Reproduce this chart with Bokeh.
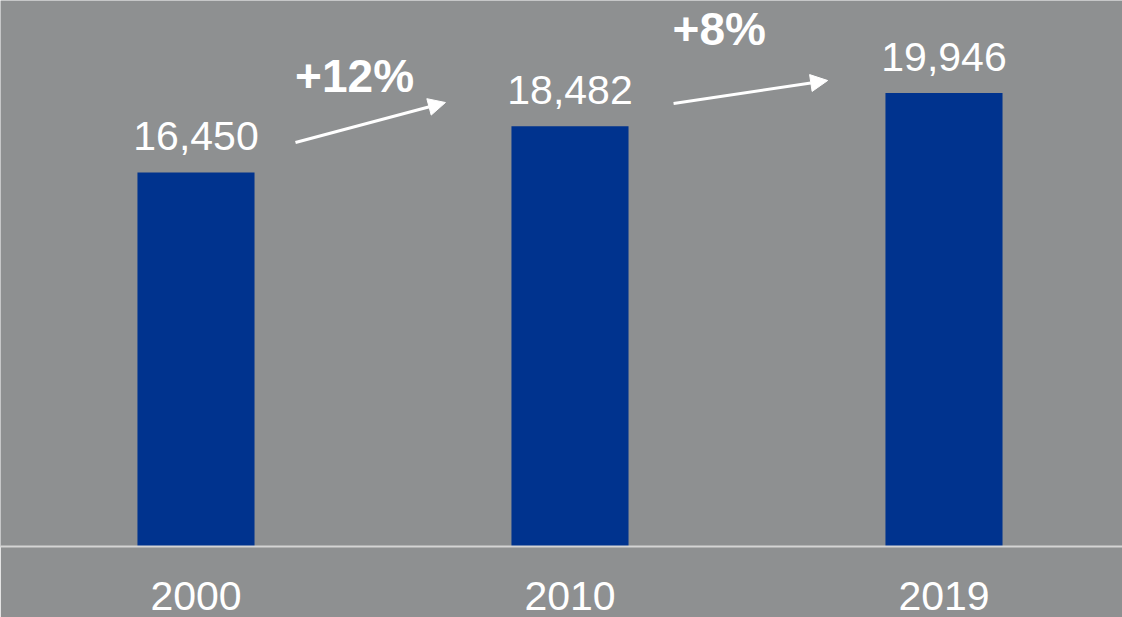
from bokeh.plotting import figure
from bokeh.models import Range1d, FixedTicker, Arrow, NormalHead, ColumnDataSource
from bokeh.core.properties import value
from bokeh.embed import file_html
from bokeh.resources import INLINE

# ---- data ----
years = ["2000", "2010", "2019"]
counts = [16450, 18482, 19946]
growth_labels = ["+%d%%" % round((counts[i + 1] / counts[i] - 1) * 100) for i in range(len(counts) - 1)]

# ---- layout constants (annotation placement) ----
BG = "#8e9091"
BAR = "#00338e"
FONT = "Liberation Sans"
growth_label_pos = [(0.424, 20716), (1.399, 22783)]
arrow_pos = [((0.266, 17769), (0.667, 19528)), ((1.277, 19485), (1.689, 20496))]

idx = list(range(len(years)))

p = figure(width=1122, height=617, output_backend="svg", toolbar_location=None,
           x_range=Range1d(-0.5227, 2.4773), y_range=Range1d(0, 24015),
           min_border_left=0, min_border_right=0, min_border_top=0, min_border_bottom=71,
           y_axis_location=None)
p.background_fill_color = BG
p.border_fill_color = BG
p.outline_line_color = None
p.grid.visible = False

src = ColumnDataSource(dict(x=idx, top=counts, lab=[f"{c:,}" for c in counts]))
p.vbar(x="x", top="top", width=0.313, bottom=0, source=src, fill_color=BAR, line_color=None)
p.text(x="x", y="top", text="lab", source=src, y_offset=-36, text_align="center",
       text_baseline="alphabetic", text_color="white", text_font=value(FONT),
       text_font_size="41px")

gsrc = ColumnDataSource(dict(x=[g[0] for g in growth_label_pos], y=[g[1] for g in growth_label_pos],
                             t=growth_labels))
p.text(x="x", y="y", text="t", source=gsrc, text_align="center", text_baseline="alphabetic",
       text_color="white", text_font=value(FONT), text_font_size="46px", text_font_style="bold")

for (s, e) in arrow_pos:
    p.add_layout(Arrow(x_start=s[0], y_start=s[1], x_end=e[0], y_end=e[1],
                       line_color="white", line_width=3,
                       end=NormalHead(size=17, fill_color="white", line_color="white", line_width=1)))

ax = p.xaxis[0]
ax.ticker = FixedTicker(ticks=idx)
ax.major_label_overrides = {i: y for i, y in zip(idx, years)}
ax.major_tick_line_color = None
ax.minor_tick_line_color = None
ax.axis_line_color = "#d4d4d4"
ax.axis_line_width = 2
ax.major_label_text_font = FONT
ax.major_label_text_font_size = "41px"
ax.major_label_text_color = "white"
ax.major_label_standoff = 29

open("out.html", "w").write(file_html(p, INLINE))
